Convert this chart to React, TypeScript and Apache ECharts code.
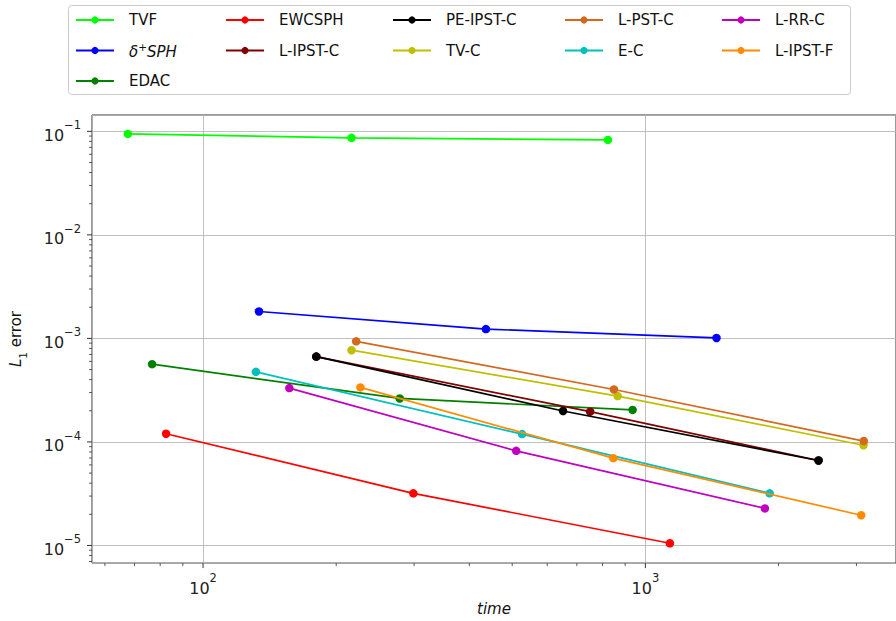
import React, { useEffect, useRef } from "react";
import * as echarts from "echarts";

const FONT = "DejaVu Sans";

// Series names in matplotlib (column-major) legend order
const seriesNames = ["TVF", "δ+SPH", "EDAC", "EWCSPH", "L-IPST-C", "PE-IPST-C", "TV-C", "L-PST-C", "E-C", "L-RR-C", "L-IPST-F"];
const seriesColors = ["#00ff00", "#0000ff", "#008000", "#ff0000", "#800000", "#000000", "#bfbf00", "#d2691e", "#00bfbf", "#bf00bf", "#ff8c00"];

const tvfTime = [67.6, 216.6, 823];
const tvfErr = [0.0944, 0.0865, 0.0826];
const deltaSphTime = [133.8, 436, 1448];
const deltaSphErr = [1.82e-3, 1.23e-3, 1.01e-3];
const edacTime = [76.7, 278.3, 935.6];
const edacErr = [5.64e-4, 2.63e-4, 2.04e-4];
const ewcsphTime = [82.5, 298.8, 1136];
const ewcsphErr = [1.2e-4, 3.19e-5, 1.05e-5];
const lIpstCTime = [180.3, 750, 2463];
const lIpstCErr = [6.67e-4, 1.96e-4, 6.62e-5];
const peIpstCTime = [180.3, 651.4, 2463];
const peIpstCErr = [6.67e-4, 1.99e-4, 6.62e-5];
const tvCTime = [216.6, 865.7, 3112];
const tvCErr = [7.69e-4, 2.77e-4, 9.29e-5];
const lPstCTime = [221.9, 848.8, 3117];
const lPstCErr = [9.37e-4, 3.21e-4, 1.02e-4];
const eCTime = [131.7, 526.3, 1909];
const eCErr = [4.75e-4, 1.19e-4, 3.19e-5];
const lRrCTime = [156.7, 510.4, 1863];
const lRrCErr = [3.31e-4, 8.2e-5, 2.28e-5];
const lIpstFTime = [226.9, 846, 3075];
const lIpstFErr = [3.36e-4, 6.97e-5, 1.96e-5];

const seriesTimes = [tvfTime, deltaSphTime, edacTime, ewcsphTime, lIpstCTime, peIpstCTime, tvCTime, lPstCTime, eCTime, lRrCTime, lIpstFTime];
const seriesErrs = [tvfErr, deltaSphErr, edacErr, ewcsphErr, lIpstCErr, peIpstCErr, tvCErr, lPstCErr, eCErr, lRrCErr, lIpstFErr];

// legend columns (matplotlib ncol=5, column-major)
const legendColumns = [
  ["TVF", "δ+SPH", "EDAC"],
  ["EWCSPH", "L-IPST-C"],
  ["PE-IPST-C", "TV-C"],
  ["L-PST-C", "E-C"],
  ["L-RR-C", "L-IPST-F"],
];
const legendColumnLeft = [75, 225, 392, 564, 721];

// axis ticks
const xMin = 56.1;
const xMax = 3686;
const yMin = 6.756e-6;
const yMax = 0.1438;
const xMajorTicks = [100, 1000];
const xMinorTicks = [60, 70, 80, 90, 200, 300, 400, 500, 600, 700, 800, 900, 2000, 3000];
const yMajorTicks = [1e-5, 1e-4, 1e-3, 1e-2, 1e-1];
const yMinorTicks = [
  7e-6, 8e-6, 9e-6,
  2e-5, 3e-5, 4e-5, 5e-5, 6e-5, 7e-5, 8e-5, 9e-5,
  2e-4, 3e-4, 4e-4, 5e-4, 6e-4, 7e-4, 8e-4, 9e-4,
  2e-3, 3e-3, 4e-3, 5e-3, 6e-3, 7e-3, 8e-3, 9e-3,
  2e-2, 3e-2, 4e-2, 5e-2, 6e-2, 7e-2, 8e-2, 9e-2,
];

function powLabel(v: number) {
  const l = Math.log10(v);
  const e = Math.round(l);
  if (Math.abs(l - e) > 1e-6) return "";
  return `{b|10}{s|${e < 0 ? "\u2212" : ""}${Math.abs(e)}}`;
}

const powRich = {
  b: { fontSize: 16, fontFamily: FONT, color: "#222", verticalAlign: "bottom", lineHeight: 24 },
  s: { fontSize: 11.5, fontFamily: FONT, color: "#222", verticalAlign: "top", lineHeight: 24 },
};

export default function App() {
  const ref = useRef<HTMLDivElement>(null);
  useEffect(() => {
    const chart = echarts.init(ref.current!, undefined, { renderer: "svg" });

    const lineSeries = seriesNames.map((name, i) => ({
      name,
      type: "line",
      data: seriesTimes[i].map((t, j) => [t, seriesErrs[i][j]]),
      symbol: "circle",
      symbolSize: 8.5,
      showSymbol: true,
      lineStyle: { width: 1.7, color: seriesColors[i] },
      itemStyle: { color: seriesColors[i] },
      z: 3 + i,
      emphasis: { disabled: true },
    }));

    const xTickSeries = {
      type: "custom",
      clip: false,
      silent: true,
      z: 1,
      data: [
        ...xMajorTicks.map((v) => [v, 1e-3, 1]),
        ...xMinorTicks.map((v) => [v, 1e-3, 0]),
      ],
      renderItem: (params: any, api: any) => {
        const p = api.coord([api.value(0), api.value(1)]);
        const cs = params.coordSys;
        const yb = cs.y + cs.height;
        const len = api.value(2) ? 5 : 3;
        return {
          type: "line",
          shape: { x1: p[0], y1: yb, x2: p[0], y2: yb + len },
          style: { stroke: "#333", lineWidth: api.value(2) ? 1 : 0.8 },
        };
      },
    };

    const yTickSeries = {
      type: "custom",
      clip: false,
      silent: true,
      z: 1,
      data: [
        ...yMajorTicks.map((v) => [200, v, 1]),
        ...yMinorTicks.map((v) => [200, v, 0]),
      ],
      renderItem: (params: any, api: any) => {
        const p = api.coord([api.value(0), api.value(1)]);
        const cs = params.coordSys;
        const len = api.value(2) ? 5 : 3;
        return {
          type: "line",
          shape: { x1: cs.x, y1: p[1], x2: cs.x - len, y2: p[1] },
          style: { stroke: "#333", lineWidth: api.value(2) ? 1 : 0.8 },
        };
      },
    };

    const legends = legendColumns.map((col, ci) => ({
      orient: "vertical",
      left: legendColumnLeft[ci],
      top: 11,
      padding: 0,
      itemGap: 12.5,
      itemWidth: 38,
      itemHeight: 9,
      selectedMode: false,
      data: col,
      formatter: (name: string) => (name === "δ+SPH" ? "{i|δ}{sup|+}{i|SPH}" : name),
      textStyle: {
        fontFamily: FONT,
        fontSize: 15,
        color: "#111",
        lineHeight: 18,
        padding: [0, 0, 0, 10],
        rich: {
          i: { fontFamily: FONT, fontSize: 15, fontStyle: "italic", color: "#111", verticalAlign: "bottom", lineHeight: 18 },
          sup: { fontFamily: FONT, fontSize: 10.5, color: "#111", verticalAlign: "top", lineHeight: 18 },
        },
      },
    }));

    chart.setOption({
      animation: false,
      backgroundColor: "#ffffff",
      textStyle: { fontFamily: FONT },
      graphic: [
        {
          type: "rect",
          shape: { x: 68.5, y: 5.5, width: 782, height: 89, r: 3 },
          style: { fill: "#ffffff", stroke: "#cccccc", lineWidth: 1 },
          z: -1,
          silent: true,
        },
      ],
      legend: legends,
      grid: {
        left: 92,
        top: 115,
        right: -2,
        bottom: 56,
        show: true,
        borderColor: "#333",
        borderWidth: 1,
        backgroundColor: "transparent",
      },
      xAxis: {
        type: "log",
        logBase: 10,
        min: xMin,
        max: xMax,
        axisLine: { show: false },
        axisTick: { show: false },
        axisLabel: {
          formatter: powLabel,
          rich: powRich,
          margin: 9,
          showMinLabel: false,
          showMaxLabel: false,
        },
        splitLine: { show: true, lineStyle: { color: "#b0b0b0", width: 0.8 } },
        name: "time",
        nameLocation: "middle",
        nameGap: 36,
        nameTextStyle: { fontFamily: FONT, fontSize: 15, fontStyle: "italic", color: "#111" },
      },
      yAxis: {
        type: "log",
        logBase: 10,
        min: yMin,
        max: yMax,
        axisLine: { show: false },
        axisTick: { show: false },
        axisLabel: {
          formatter: powLabel,
          rich: powRich,
          margin: 11,
          showMinLabel: false,
          showMaxLabel: false,
        },
        splitLine: { show: true, lineStyle: { color: "#b0b0b0", width: 0.8 } },
        name: "{i|L}{sub|1}{t| error}",
        nameLocation: "middle",
        nameRotate: 90,
        nameGap: 64,
        nameTextStyle: {
          rich: {
            i: { fontFamily: FONT, fontSize: 15, fontStyle: "italic", color: "#111", verticalAlign: "top", lineHeight: 20 },
            sub: { fontFamily: FONT, fontSize: 10.5, color: "#111", verticalAlign: "bottom", lineHeight: 20 },
            t: { fontFamily: FONT, fontSize: 15, color: "#111", verticalAlign: "top", lineHeight: 20 },
          },
        },
      },
      series: [xTickSeries, yTickSeries, ...lineSeries],
    });
    return () => chart.dispose();
  }, []);
  return <div ref={ref} style={{ position: "absolute", left: 0, top: 0, width: 896, height: 621 }} />;
}
